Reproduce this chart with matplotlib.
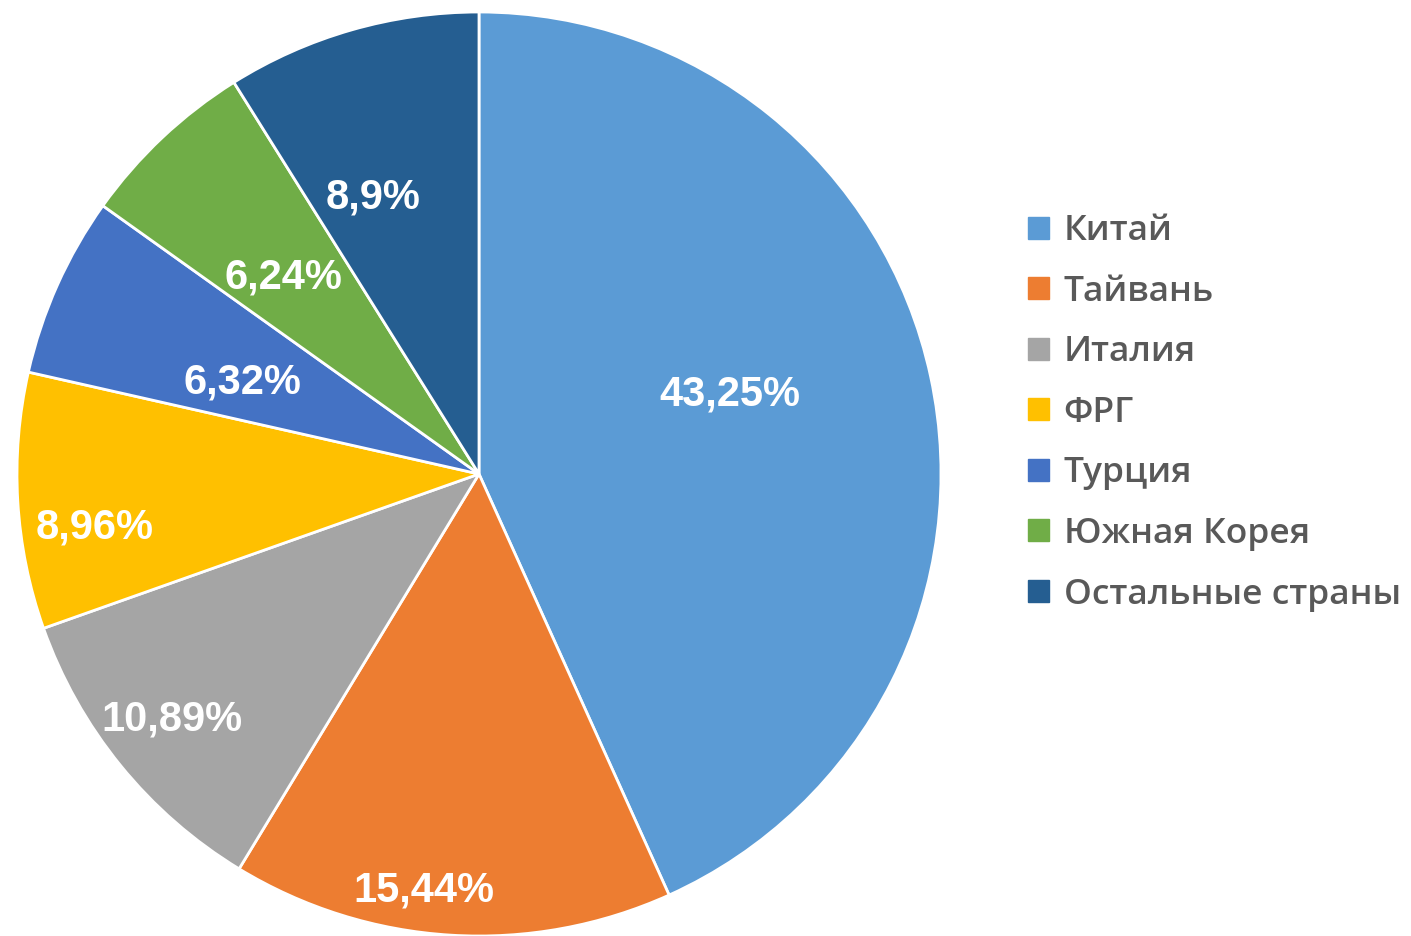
import matplotlib
matplotlib.use("Agg")
import matplotlib.pyplot as plt
import matplotlib.patches as mpatches
import numpy as np

### DATA ###
countries = ["Китай", "Тайвань", "Италия", "ФРГ", "Турция", "Южная Корея", "Остальные страны"]
shares = [43.25, 15.44, 10.89, 8.96, 6.32, 6.24, 8.9]
share_labels = ["43,25%", "15,44%", "10,89%", "8,96%", "6,32%", "6,24%", "8,9%"]

### STYLE ###
colors = ["#5B9BD5", "#ED7D31", "#A5A5A5", "#FFC000", "#4472C4", "#70AD47", "#255E91"]
# radial position and angular nudge (degrees) of each label, excel "best fit" style
label_radius = [0.57, 0.91, 0.85, 0.84, 0.55, 0.60, 0.64]
label_nudge = [5.5, -4.0, -0.5, 4.5, 3.0, 1.5, 5.0]

W, H = 1411, 936
fig = plt.figure(figsize=(W / 100, H / 100), dpi=100)

cx, cy, r = 479, 474, 462
ax = fig.add_axes([(cx - r) / W, (H - cy - r) / H, 2 * r / W, 2 * r / H])

wedges, _ = ax.pie(shares, colors=colors, startangle=90, counterclock=False,
                   wedgeprops=dict(edgecolor="white", linewidth=2))
ax.set_xlim(-1, 1)
ax.set_ylim(-1, 1)
ax.set_aspect("equal")
ax.axis("off")

for w, txt, rad, nudge in zip(wedges, share_labels, label_radius, label_nudge):
    ang = np.deg2rad((w.theta1 + w.theta2) / 2 + nudge)
    ax.text(rad * np.cos(ang), rad * np.sin(ang), txt, ha="center", va="center",
            color="white", fontsize=30, fontweight="bold", family="Liberation Sans")

handles = [mpatches.Patch(color=c, label=n) for c, n in zip(colors, countries)]
leg = fig.legend(handles=handles, loc="upper left", bbox_to_anchor=(1014 / W, 1 - 200 / H),
                 frameon=False, handlelength=0.58, handleheight=0.58, handletextpad=0.42,
                 labelspacing=0.75, borderaxespad=0,
                 prop=dict(family="Open Sans", size=25.5, weight="semibold"))
for t in leg.get_texts():
    t.set_color("#595959")

fig.savefig("out.png", dpi=100)
